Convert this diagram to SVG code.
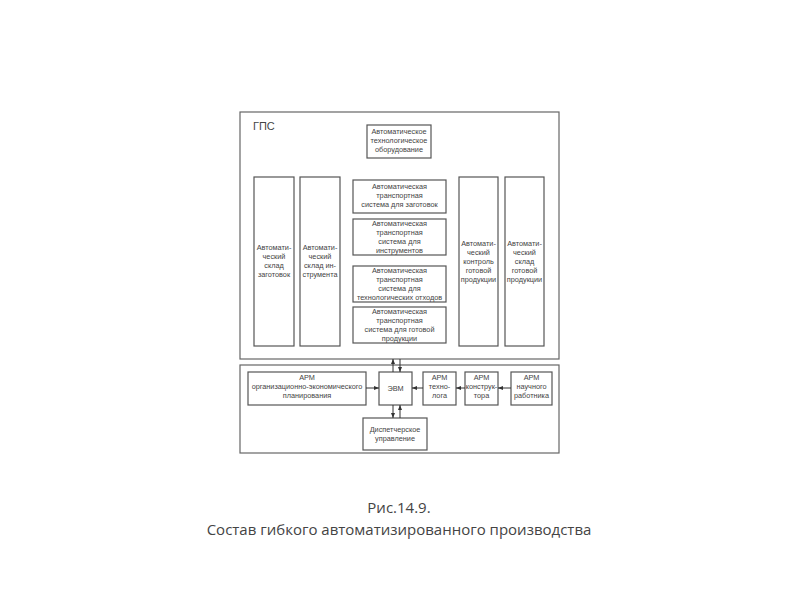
<svg xmlns="http://www.w3.org/2000/svg" width="800" height="600" viewBox="0 0 800 600">
<defs>
<marker id="ah" viewBox="0 0 10 10" refX="10" refY="5" markerWidth="5" markerHeight="5" orient="auto" markerUnits="userSpaceOnUse">
<path d="M0,1 L10,5 L0,9 Z" fill="#333"/>
</marker>
<style>
.b{fill:#fff;stroke:#555;stroke-width:1.2}
.f{fill:none;stroke:#666;stroke-width:1.2}
.t{font-family:"Liberation Sans",Arial,sans-serif;font-size:7.3px;fill:#444;text-anchor:middle}
.c{stroke:#333;stroke-width:1;fill:none;marker-end:url(#ah)}
.cap{font-family:"Open Sans","Liberation Sans",sans-serif;font-size:15px;fill:#444;text-anchor:middle}
</style>
</defs>
<rect width="800" height="600" fill="#fff"/>
<g id="gps">
<rect class="f" x="240" y="112" width="319" height="247"/>
<text x="253" y="130" style="font-family:'Liberation Sans',Arial,sans-serif;font-size:11px;fill:#444">ГПС</text>
</g>
<g id="lower-frame">
<rect class="f" x="240" y="365" width="319" height="88"/>
</g>
<g id="equip">
<rect class="b" x="367" y="125" width="64" height="33"/>
<text class="t"><tspan x="399" y="134">Автоматическое</tspan><tspan x="399" y="143">технологическое</tspan><tspan x="399" y="152">оборудование</tspan></text>
</g>
<g id="sklad-zag">
<rect class="b" x="254" y="177" width="40" height="169"/>
<text class="t"><tspan x="274" y="250">Автомати-</tspan><tspan x="274" y="259">ческий</tspan><tspan x="274" y="268">склад</tspan><tspan x="274" y="277">заготовок</tspan></text>
</g>
<g id="sklad-instr">
<rect class="b" x="300" y="177" width="40" height="169"/>
<text class="t"><tspan x="320" y="250">Автомати-</tspan><tspan x="320" y="259">ческий</tspan><tspan x="320" y="268">склад ин-</tspan><tspan x="320" y="277">струмента</tspan></text>
</g>
<g id="ts-zag">
<rect class="b" x="353" y="180" width="93" height="33"/>
<text class="t"><tspan x="399.5" y="189">Автоматическая</tspan><tspan x="399.5" y="198">транспортная</tspan><tspan x="399.5" y="207">система для заготовок</tspan></text>
</g>
<g id="ts-instr">
<rect class="b" x="353" y="219" width="93" height="36"/>
<text class="t"><tspan x="399.5" y="226">Автоматическая</tspan><tspan x="399.5" y="235">транспортная</tspan><tspan x="399.5" y="244">система для</tspan><tspan x="399.5" y="253">инструментов</tspan></text>
</g>
<g id="ts-otx">
<rect class="b" x="353" y="266" width="93" height="36"/>
<text class="t"><tspan x="399.5" y="273">Автоматическая</tspan><tspan x="399.5" y="282">транспортная</tspan><tspan x="399.5" y="291">система для</tspan><tspan x="399.5" y="300">технологических отходов</tspan></text>
</g>
<g id="ts-gp">
<rect class="b" x="353" y="307" width="93" height="36"/>
<text class="t"><tspan x="399.5" y="314">Автоматическая</tspan><tspan x="399.5" y="323">транспортная</tspan><tspan x="399.5" y="332">система для готовой</tspan><tspan x="399.5" y="341">продукции</tspan></text>
</g>
<g id="kontrol">
<rect class="b" x="459" y="177" width="39" height="169"/>
<text class="t"><tspan x="478.5" y="246">Автомати-</tspan><tspan x="478.5" y="255">ческий</tspan><tspan x="478.5" y="264">контроль</tspan><tspan x="478.5" y="273">готовой</tspan><tspan x="478.5" y="282">продукции</tspan></text>
</g>
<g id="sklad-gp">
<rect class="b" x="505" y="177" width="39" height="169"/>
<text class="t"><tspan x="524.5" y="246">Автомати-</tspan><tspan x="524.5" y="255">ческий</tspan><tspan x="524.5" y="264">склад</tspan><tspan x="524.5" y="273">готовой</tspan><tspan x="524.5" y="282">продукции</tspan></text>
</g>
<g id="arm-org">
<rect class="b" x="248" y="372" width="118" height="33"/>
<text class="t"><tspan x="307" y="380">АРМ</tspan><tspan x="307" y="389">организационно-экономического</tspan><tspan x="307" y="398">планирования</tspan></text>
</g>
<g id="evm">
<rect class="b" x="379" y="372" width="33" height="33"/>
<text class="t" x="395.5" y="391">ЭВМ</text>
</g>
<g id="arm-tech">
<rect class="b" x="423" y="372" width="33" height="33"/>
<text class="t"><tspan x="439.5" y="380">АРМ</tspan><tspan x="439.5" y="389">техно-</tspan><tspan x="439.5" y="398">лога</tspan></text>
</g>
<g id="arm-kon">
<rect class="b" x="465" y="372" width="33" height="33"/>
<text class="t"><tspan x="481.5" y="380">АРМ</tspan><tspan x="481.5" y="389">конструк-</tspan><tspan x="481.5" y="398">тора</tspan></text>
</g>
<g id="arm-nauch">
<rect class="b" x="511" y="372" width="41" height="33"/>
<text class="t"><tspan x="531.5" y="380">АРМ</tspan><tspan x="531.5" y="389">научного</tspan><tspan x="531.5" y="398">работника</tspan></text>
</g>
<g id="disp">
<rect class="b" x="363" y="418" width="64" height="32"/>
<text class="t"><tspan x="395" y="432">Диспетчерское</tspan><tspan x="395" y="441">управление</tspan></text>
</g>
<g id="connectors">
<line class="c" x1="393" y1="372" x2="393" y2="359"/>
<line class="c" x1="400" y1="359" x2="400" y2="372"/>
<line class="c" x1="393" y1="405" x2="393" y2="418"/>
<line class="c" x1="400" y1="418" x2="400" y2="405"/>
<line class="c" x1="366" y1="388" x2="379" y2="388"/>
<line class="c" x1="423" y1="388" x2="412" y2="388"/>
<line class="c" x1="465" y1="388" x2="456" y2="388"/>
<line class="c" x1="511" y1="388" x2="498" y2="388"/>
</g>
<g id="caption">
<text class="cap" x="399" y="513">Рис.14.9.</text>
<text class="cap" x="399" y="535">Состав гибкого автоматизированного производства</text>
</g>
</svg>
